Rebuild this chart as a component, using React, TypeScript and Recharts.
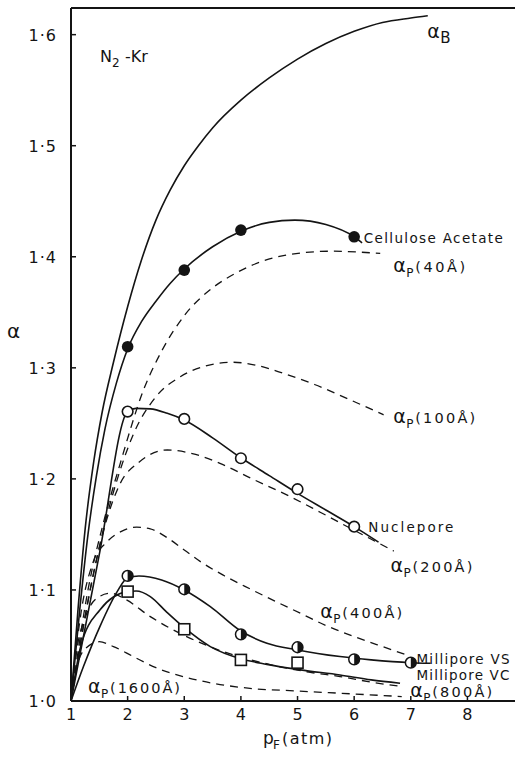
import React from 'react';
import { ComposedChart, Line, Scatter, XAxis, YAxis, ReferenceLine } from 'recharts';

// ---- axes ----
const X_MIN = 1;
const X_MAX = 8.84;
const Y_MIN = 1.0;
const Y_MAX = 1.624;
const xTicks = [1, 2, 3, 4, 5, 6, 7, 8];
const xTickLabels = ['1', '2', '3', '4', '5', '6', '7', '8'];
const yTicks = [1.0, 1.1, 1.2, 1.3, 1.4, 1.5, 1.6];
const yTickLabels = ['1·0', '1·1', '1·2', '1·3', '1·4', '1·5', '1·6'];

// ---- theoretical / fitted curves: [pF (atm), alpha] ----
const alphaB = [
  [1, 1.0], [1.12, 1.08], [1.25, 1.155], [1.4, 1.215], [1.55, 1.26], [1.75, 1.305],
  [2.0, 1.355], [2.25, 1.398], [2.5, 1.433], [2.75, 1.46], [3.0, 1.482], [3.25, 1.5],
  [3.5, 1.516], [4.0, 1.541], [4.5, 1.561], [5.0, 1.578], [5.5, 1.592], [6.0, 1.603],
  [6.5, 1.611], [7.0, 1.615], [7.3, 1.617],
];
const celluloseCurve = [
  [1, 1.0], [1.15, 1.08], [1.3, 1.15], [1.45, 1.203], [1.6, 1.245], [1.8, 1.286],
  [2, 1.317], [2.25, 1.342], [2.5, 1.36], [2.75, 1.376], [3, 1.389], [3.5, 1.409],
  [4, 1.423], [4.5, 1.431], [4.95, 1.433], [5.5, 1.429], [6, 1.418], [6.14, 1.4125],
];
const alphaP40 = [
  [1, 1.0], [1.3, 1.1], [1.57, 1.16], [1.87, 1.214], [2.28, 1.28], [2.6, 1.315],
  [3.0, 1.347], [3.5, 1.372], [3.9, 1.385], [4.75, 1.401], [5.6, 1.405], [6.46, 1.403],
];
const alphaP100 = [
  [1, 1.0], [1.3, 1.09], [1.6, 1.16], [1.85, 1.205], [2.1, 1.24], [2.5, 1.274],
  [2.93, 1.292], [3.4, 1.302], [3.87, 1.305], [4.3, 1.302], [4.75, 1.295],
  [5.3, 1.285], [5.87, 1.2725], [6.52, 1.2577],
];
const nucleporeCurve = [
  [1, 1.0], [1.5, 1.132], [2, 1.2606], [2.15, 1.2635], [2.4, 1.263], [2.7, 1.259],
  [3, 1.253], [3.5, 1.237], [4, 1.219], [4.5, 1.203], [5, 1.187], [5.5, 1.172],
  [6, 1.157], [6.43, 1.143],
];
const alphaP200 = [
  [1, 1.0], [1.3, 1.09], [1.6, 1.158], [1.87, 1.196], [2.2, 1.215], [2.7, 1.226],
  [3.2, 1.222], [3.63, 1.214], [4.2, 1.2], [4.81, 1.1856], [5.4, 1.17],
  [5.99, 1.154], [6.7, 1.135],
];
const alphaP400 = [
  [1, 1.0], [1.15, 1.07], [1.39, 1.125], [1.63, 1.143], [1.9, 1.153], [2.16, 1.1565],
  [2.4, 1.155], [2.7, 1.147], [3.0, 1.136], [3.3, 1.125], [3.7, 1.113], [4.16, 1.101],
  [4.6, 1.09], [5.05, 1.079], [5.5, 1.068], [6.0, 1.058], [6.5, 1.049], [6.9, 1.042],
];
const milliporeVSCurve = [
  [1, 1.0], [1.22, 1.031], [1.51, 1.067], [1.81, 1.098], [2, 1.111], [2.2, 1.1125],
  [2.6, 1.109], [3, 1.1], [3.46, 1.085], [4, 1.063], [4.46, 1.052], [5, 1.046],
  [5.75, 1.04], [6.3, 1.037], [7, 1.0345], [7.35, 1.034],
];
const milliporeVCCurve = [
  [1, 1.0], [1.17, 1.049], [1.51, 1.082], [2, 1.0985], [2.15, 1.099], [2.4, 1.094],
  [2.69, 1.08], [3, 1.066], [3.46, 1.049], [4, 1.038], [4.46, 1.033], [5.05, 1.028],
  [5.75, 1.0234], [6.3, 1.019], [6.81, 1.016],
];
const alphaP800 = [
  [1, 1.0], [1.1, 1.045], [1.25, 1.075], [1.5, 1.094], [1.7, 1.097], [1.98, 1.091],
  [2.4, 1.076], [2.98, 1.0595], [3.4, 1.05], [3.87, 1.0414], [4.5, 1.033],
  [5.2, 1.026], [5.75, 1.022], [6.3, 1.017], [6.84, 1.013],
];
const alphaP1600 = [
  [1, 1.0], [1.1, 1.03], [1.25, 1.047], [1.5, 1.0534], [1.75, 1.049], [2.1, 1.04],
  [2.5, 1.03], [2.98, 1.022], [3.5, 1.016], [4.16, 1.0114], [5, 1.009],
  [5.75, 1.007], [6.84, 1.004],
];

// ---- measured separation factors ----
const celluloseAcetate = [[2, 1.319], [3, 1.388], [4, 1.424], [6, 1.418]];
const nuclepore = [[2, 1.2606], [3, 1.254], [4, 1.2186], [5, 1.1907], [6, 1.157]];
const milliporeVS = [[2, 1.1126], [3, 1.1006], [4, 1.06], [5, 1.0484], [6, 1.0375], [7, 1.0345]];
const milliporeVC = [[2, 1.0985], [3, 1.0646], [4, 1.037], [5, 1.0345]];

// ---- curve annotations, anchored in data units (left end, baseline) ----
const annotations = [
  { x: 1.51, y: 1.5757, kind: 'gas', text: 'Kr' },
  { x: 7.29, y: 1.597, kind: 'alpha', sub: 'B', tail: '' },
  { x: 6.17, y: 1.4126, kind: 'text', text: 'Cellulose Acetate', len: 139 },
  { x: 6.69, y: 1.3865, kind: 'alpha', sub: 'P', tail: '(40Å)' },
  { x: 6.69, y: 1.2505, kind: 'alpha', sub: 'P', tail: '(100Å)' },
  { x: 6.25, y: 1.1523, kind: 'text', text: 'Nuclepore', len: 85 },
  { x: 6.64, y: 1.1162, kind: 'alpha', sub: 'P', tail: '(200Å)' },
  { x: 5.4, y: 1.0748, kind: 'alpha', sub: 'P', tail: '(400Å)' },
  { x: 7.1, y: 1.0333, kind: 'text', text: 'Millipore VS', len: 93 },
  { x: 7.1, y: 1.0188, kind: 'text', text: 'Millipore VC', len: 93 },
  { x: 6.99, y: 1.0032, kind: 'alpha', sub: 'P', tail: '(800Å)' },
  { x: 1.3, y: 1.0072, kind: 'alpha', sub: 'P', tail: '(1600Å)' },
];

const INK = '#141414';
const FONT = '"DejaVu Sans", "Liberation Sans", sans-serif';

const toPts = (rows: number[][]) => rows.map(([x, y]) => ({ x, y }));

const FilledDot = (p: any) => <circle cx={p.cx} cy={p.cy} r={5.8} fill={INK} />;
const OpenDot = (p: any) => (
  <circle cx={p.cx} cy={p.cy} r={5.3} fill="#fff" stroke={INK} strokeWidth={1.6} />
);
const HalfDot = (p: any) => {
  const r = 5.4;
  const { cx, cy } = p;
  return (
    <g>
      <circle cx={cx} cy={cy} r={r} fill="#fff" stroke={INK} strokeWidth={1.5} />
      <path d={`M${cx},${cy - r} A${r},${r} 0 0 1 ${cx},${cy + r} Z`} fill={INK} />
    </g>
  );
};
const SquareMark = (p: any) => {
  const s = 11;
  return (
    <rect x={p.cx - s / 2} y={p.cy - s / 2} width={s} height={s} fill="#fff" stroke={INK} strokeWidth={1.6} />
  );
};

const AnnotationShape = (p: any) => {
  const d = p.payload;
  const x = p.cx;
  const y = p.cy;
  if (d.kind === 'text') {
    return (
      <text x={x} y={y} fontFamily={FONT} fontSize={13.5} fill={INK} textLength={d.len}>
        {d.text}
      </text>
    );
  }
  if (d.kind === 'gas') {
    return (
      <g fontFamily={FONT} fill={INK}>
        <text x={x} y={y} fontSize={16}>N</text>
        <text x={x + 12} y={y + 5} fontSize={12}>2</text>
        <text x={x + 25} y={y} fontSize={16}>-{d.text}</text>
      </g>
    );
  }
  return (
    <g fontFamily={FONT} fill={INK}>
      <text x={x} y={y} fontSize={19}>α</text>
      <text x={x + 13} y={y + 5} fontSize={d.sub === 'B' ? 15 : 12}>{d.sub}</text>
      {d.tail ? (
        <text x={x + 22} y={y} fontSize={14.5} textLength={d.tail.length * 10}>{d.tail}</text>
      ) : null}
    </g>
  );
};

const YTick = (p: any) => {
  const i = yTicks.findIndex((v) => Math.abs(v - p.payload.value) < 1e-6);
  return (
    <g>
      <line x1={p.x} x2={p.x + 5} y1={p.y} y2={p.y} stroke={INK} strokeWidth={1.5} />
      <text x={p.x - 14} y={p.y} dy="0.38em" textAnchor="end" fontFamily={FONT} fontSize={16} fill={INK} letterSpacing={1}>
        {yTickLabels[i]}
      </text>
    </g>
  );
};

const XTick = (p: any) => {
  const i = xTicks.findIndex((v) => Math.abs(v - p.payload.value) < 1e-6);
  return (
    <g>
      <line x1={p.x} x2={p.x} y1={p.y} y2={p.y - 5} stroke={INK} strokeWidth={1.5} />
      <text x={p.x} y={p.y + 19} textAnchor="middle" fontFamily={FONT} fontSize={16} fill={INK}>
        {xTickLabels[i]}
      </text>
    </g>
  );
};

const YTitle = (p: any) => {
  const vb = p.viewBox;
  return (
    <text x={vb.x + 7} y={vb.y + 330} fontFamily={FONT} fontSize={20} fill={INK}>α</text>
  );
};

const XTitle = (p: any) => {
  const vb = p.viewBox;
  const x = vb.x + 192;
  const y = vb.y + 43;
  return (
    <g fontFamily={FONT} fill={INK}>
      <text x={x} y={y} fontSize={17}>p</text>
      <text x={x + 10} y={y + 5} fontSize={12}>F</text>
      <text x={x + 19} y={y} fontSize={16} textLength={50}>(atm)</text>
    </g>
  );
};

const solid = { stroke: INK, strokeWidth: 1.6 };
const dashed = { stroke: INK, strokeWidth: 1.3, strokeDasharray: '8 6' };

const curves: { id: string; rows: number[][]; style: any }[] = [
  { id: 'aB', rows: alphaB, style: solid },
  { id: 'ca', rows: celluloseCurve, style: solid },
  { id: 'p40', rows: alphaP40, style: dashed },
  { id: 'p100', rows: alphaP100, style: dashed },
  { id: 'nuc', rows: nucleporeCurve, style: solid },
  { id: 'p200', rows: alphaP200, style: dashed },
  { id: 'p400', rows: alphaP400, style: dashed },
  { id: 'vs', rows: milliporeVSCurve, style: solid },
  { id: 'vc', rows: milliporeVCCurve, style: solid },
  { id: 'p800', rows: alphaP800, style: dashed },
  { id: 'p1600', rows: alphaP1600, style: dashed },
];

export default function App() {
  return (
    <div style={{ position: 'absolute', left: 0, top: 0, background: '#fff' }}>
      <ComposedChart width={515} height={759} margin={{ top: 8, right: 0, bottom: 0, left: 0 }}>
        <XAxis
          dataKey="x"
          type="number"
          domain={[X_MIN, X_MAX]}
          allowDataOverflow
          ticks={xTicks}
          tickSize={0}
          tickMargin={0}
          height={58}
          axisLine={{ stroke: INK, strokeWidth: 2 }}
          tickLine={false}
          tick={XTick}
          label={{ content: XTitle }}
        />
        <YAxis
          dataKey="y"
          type="number"
          domain={[Y_MIN, Y_MAX]}
          allowDataOverflow
          ticks={yTicks}
          tickSize={0}
          tickMargin={0}
          width={71}
          axisLine={{ stroke: INK, strokeWidth: 2 }}
          tickLine={false}
          tick={YTick}
          label={{ content: YTitle }}
        />
        <ReferenceLine y={Y_MAX} stroke={INK} strokeWidth={2} ifOverflow="visible" />
        {curves.map((c) => (
          <Line
            key={c.id}
            data={toPts(c.rows)}
            dataKey="y"
            type="monotone"
            dot={false}
            activeDot={false}
            isAnimationActive={false}
            {...c.style}
          />
        ))}
        <Scatter data={toPts(celluloseAcetate)} dataKey="y" shape={FilledDot} isAnimationActive={false} />
        <Scatter data={toPts(nuclepore)} dataKey="y" shape={OpenDot} isAnimationActive={false} />
        <Scatter data={toPts(milliporeVS)} dataKey="y" shape={HalfDot} isAnimationActive={false} />
        <Scatter data={toPts(milliporeVC)} dataKey="y" shape={SquareMark} isAnimationActive={false} />
        <Scatter data={annotations} dataKey="y" shape={AnnotationShape} isAnimationActive={false} />
      </ComposedChart>
    </div>
  );
}
